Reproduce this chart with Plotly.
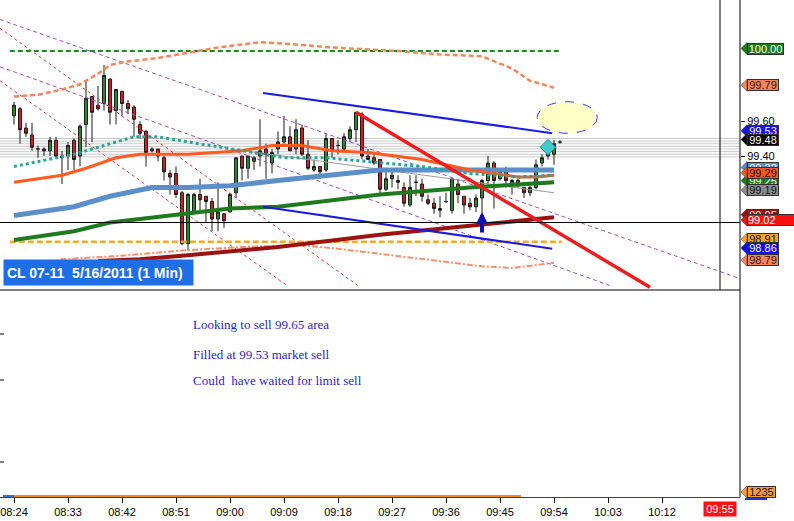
import plotly.graph_objects as go

# ---------------- data ----------------
tick_labels = ["08:24", "08:33", "08:42", "08:51", "09:00", "09:09", "09:18",
               "09:27", "09:36", "09:45", "09:54", "10:03", "10:12"]
tick_minutes = [0, 9, 18, 27, 36, 45, 54, 63, 72, 81, 90, 99, 108]

bar_index = list(range(92))  # minutes after 08:24
opens = [99.63, 99.67, 99.56, 99.52, 99.44, 99.44, 99.43, 99.49, 99.39, 99.40,
         99.49, 99.40, 99.58, 99.74, 99.69, 99.70, 99.84, 99.66, 99.77, 99.70,
         99.68, 99.58, 99.54, 99.43, 99.44, 99.39, 99.30, 99.30, 99.19, 98.90,
         99.08, 99.18, 99.17, 99.14, 99.04, 99.07, 99.08, 99.19, 99.40, 99.33,
         99.37, 99.40, 99.44, 99.36, 99.44, 99.48, 99.51, 99.44, 99.56, 99.41,
         99.32, 99.34, 99.32, 99.50, 99.46, 99.44, 99.50, 99.55, 99.64, 99.40,
         99.39, 99.38, 99.21, 99.27, 99.26, 99.22, 99.12, 99.25, 99.24, 99.15,
         99.13, 99.10, 99.14, 99.09, 99.24, 99.17, 99.13, 99.11, 99.16, 99.26,
         99.36, 99.27, 99.31, 99.23, 99.26, 99.22, 99.19, 99.22, 99.36, 99.40,
         99.41, 99.48]
highs = [99.71, 99.68, 99.59, 99.59, 99.46, 99.45, 99.51, 99.51, 99.43, 99.48,
         99.50, 99.58, 99.83, 99.74, 99.80, 99.92, 99.84, 99.78, 99.77, 99.72,
         99.69, 99.60, 99.55, 99.45, 99.44, 99.40, 99.32, 99.34, 99.20, 99.19,
         99.19, 99.27, 99.17, 99.16, 99.25, 99.07, 99.19, 99.39, 99.40, 99.40,
         99.40, 99.61, 99.47, 99.44, 99.54, 99.63, 99.57, 99.61, 99.58, 99.49,
         99.38, 99.34, 99.53, 99.50, 99.49, 99.53, 99.57, 99.65, 99.65, 99.44,
         99.42, 99.38, 99.31, 99.33, 99.29, 99.25, 99.29, 99.29, 99.27, 99.18,
         99.16, 99.17, 99.19, 99.27, 99.27, 99.17, 99.16, 99.18, 99.27, 99.40,
         99.37, 99.33, 99.34, 99.27, 99.27, 99.22, 99.23, 99.38, 99.41, 99.45,
         99.49, 99.49]
lows = [99.58, 99.47, 99.51, 99.43, 99.39, 99.40, 99.40, 99.39, 99.24, 99.32,
        99.32, 99.34, 99.45, 99.48, 99.66, 99.66, 99.58, 99.58, 99.63, 99.64,
        99.51, 99.50, 99.34, 99.42, 99.37, 99.26, 99.18, 99.16, 98.89, 98.86,
        99.08, 99.09, 99.02, 98.97, 98.97, 98.99, 99.08, 99.16, 99.26, 99.27,
        99.32, 99.34, 99.27, 99.30, 99.41, 99.47, 99.43, 99.41, 99.40, 99.32,
        99.31, 99.27, 99.31, 99.39, 99.41, 99.43, 99.48, 99.48, 99.38, 99.38,
        99.35, 99.17, 99.20, 99.22, 99.21, 99.11, 99.11, 99.17, 99.14, 99.12,
        99.07, 99.05, 99.13, 99.07, 99.13, 99.07, 99.09, 99.08, 99.07, 99.23,
        99.10, 99.26, 99.22, 99.18, 99.22, 99.16, 99.17, 99.21, 99.34, 99.38,
        99.35, 99.47]
closes = [99.69, 99.55, 99.53, 99.45, 99.44, 99.43, 99.49, 99.40, 99.40, 99.46,
          99.38, 99.57, 99.73, 99.65, 99.67, 99.86, 99.65, 99.78, 99.70, 99.67,
          99.61, 99.53, 99.42, 99.44, 99.40, 99.31, 99.28, 99.18, 98.90, 99.18,
          99.18, 99.15, 99.14, 99.04, 99.08, 99.03, 99.18, 99.39, 99.33, 99.40,
          99.39, 99.43, 99.41, 99.42, 99.48, 99.51, 99.43, 99.55, 99.41, 99.33,
          99.34, 99.31, 99.50, 99.43, 99.46, 99.51, 99.55, 99.65, 99.40, 99.38,
          99.36, 99.21, 99.27, 99.29, 99.25, 99.13, 99.22, 99.25, 99.17, 99.13,
          99.10, 99.09, 99.14, 99.27, 99.18, 99.12, 99.11, 99.16, 99.26, 99.36,
          99.26, 99.31, 99.26, 99.26, 99.23, 99.19, 99.22, 99.35, 99.39, 99.44,
          99.47, 99.48]

# moving averages / bands  (minute index, price)
teal_x = [0, 10, 16, 20, 24, 29, 40, 45, 52, 59, 68, 76, 84, 90]
teal_y = [99.34, 99.41, 99.47, 99.51, 99.51, 99.48, 99.42, 99.39, 99.39, 99.37, 99.34, 99.30, 99.28, 99.29]
orange_x = [0, 8, 12, 17, 21, 29, 38, 43, 48, 53, 59, 68, 76, 84, 87, 90]
orange_y = [99.25, 99.29, 99.33, 99.39, 99.41, 99.41, 99.43, 99.46, 99.46, 99.43, 99.42, 99.38, 99.32, 99.28, 99.28, 99.29]
steel_x = [0, 10, 16, 23, 29, 36, 44, 53, 61, 75, 90]
steel_y = [99.06, 99.11, 99.17, 99.22, 99.22, 99.23, 99.26, 99.29, 99.32, 99.32, 99.32]
green_x = [0, 10, 16, 23, 29, 36, 44, 53, 61, 76, 90]
green_y = [98.92, 98.97, 99.02, 99.05, 99.07, 99.10, 99.11, 99.15, 99.18, 99.22, 99.25]
darkred_x = [14, 21, 28, 44, 61, 76, 90]
darkred_y = [98.80, 98.81, 98.83, 98.88, 98.95, 99.00, 99.05]
gray_x = [36, 90]
gray_y = [99.44, 99.19]
upper_x = [0, 4, 8, 11, 14, 16, 19, 24, 29, 34, 41, 46, 53, 59, 64, 71, 78, 83, 86, 90]
upper_y = [99.74, 99.75, 99.78, 99.81, 99.87, 99.92, 99.94, 99.96, 99.99, 100.02,
           100.05, 100.04, 100.02, 100.01, 100.00, 99.98, 99.97, 99.90, 99.83, 99.79]
lower_x = [0, 8, 18, 28, 38, 48, 54, 61, 69, 78, 83, 88, 90]
lower_y = [98.74, 98.81, 98.83, 98.86, 98.88, 98.89, 98.87, 98.84, 98.81, 98.77, 98.76, 98.78, 98.79]

# horizontal levels
level_100 = 100.00
level_low = 98.91
level_span = [-0.7, 91.3]
profile_levels = [99.50, 99.485, 99.47, 99.455, 99.44, 99.425, 99.41, 99.395]
cursor_price = 99.02

# drawn trend lines: ((t0, p0), (t1, p1))
blue_upper = ((41.5, 99.76), (89.7, 99.53))
blue_lower = ((41.5, 99.11), (89.7, 98.87))
red_trend = ((57.0, 99.65), (106.0, 98.65))
purple_lines = [((-2.33, 100.18), (121.0, 98.70)), ((-2.33, 99.91), (99.3, 98.66))]
red_dashed = [((-2.33, 99.83), (45.5, 98.66)), ((-2.33, 100.13), (57.3, 98.66))]
target_zone_t = [87.2, 97.2]
target_zone_p = [99.53, 99.71]
entry_marker = (89, 99.45)
buy_arrow = (78, 98.955, 99.08)

# right-axis price tags: value, text, background, text colour
price_tags = [
    (100.00, "100.00", "#15801a", "white"),
    (99.79, "99.79", "#f4845f", "#3a1408"),
    (99.53, "99.53", "#1414e6", "white"),
    (99.48, "99.48", "#000000", "white"),
    (99.32, "99.32", "#5b8fc9", "white"),
    (99.245, "99.25", "#1f7a1f", "white"),
    (99.29, "99.29", "#f25a24", "#1a0800"),
    (99.19, "99.19", "#8c8c8c", "#101010"),
    (99.05, "99.05", "#9b1010", "white"),
    (99.02, "99.02", "#ff1010", "white"),
    (98.91, "98.91", "#f5a623", "#101010"),
    (98.86, "98.86", "#0a0af0", "white"),
    (98.79, "98.79", "#f4845f", "#3a1408"),
]
title_text = "CL 07-11\u00a0 5/16/2011 (1 Min)"
notes = ["Looking to sell 99.65 area", "Filled at 99.53 market sell",
         "Could\u00a0 have waited for limit sell"]
volume_tag = "1235"
time_tag = "09:55"

# ---------------- layout geometry ----------------
W, H = 794, 521
PW, PH = 740, 497          # plot area (px)
MAIN_H = 290               # price pane height (px)
PX_PER = 175.0             # px per price unit
P_TOP = 99.60 + 121 / PX_PER
P_BOT = P_TOP - MAIN_H / PX_PER
X0 = -14 / 6
X1 = X0 + PW / 6


def px(x):
    return x / PW


def py(y):
    return 1 - y / PH


fig = go.Figure()

fig.add_trace(go.Candlestick(
    x=bar_index, open=opens, high=highs, low=lows, close=closes,
    increasing=dict(fillcolor="#2e8b2e", line=dict(color="#1a1a1a", width=1)),
    decreasing=dict(fillcolor="#e01a1a", line=dict(color="#1a1a1a", width=1)),
    whiskerwidth=0, hoverinfo="skip"))


def line(x, y, color, width, dash="solid"):
    fig.add_trace(go.Scatter(x=x, y=y, mode="lines", hoverinfo="skip",
                             line=dict(color=color, width=width, dash=dash)))


def seg(s, color, width, dash="solid"):
    line([s[0][0], s[1][0]], [s[0][1], s[1][1]], color, width, dash)


for s in red_dashed:
    seg(s, "#e83838", 1, "3px,3px")
for s in purple_lines:
    seg(s, "#9b4fc4", 1, "4px,3px")
line(level_span, [level_100, level_100], "#1a8a1a", 2, "5px,3px")
line(level_span, [level_low, level_low], "#f9a825", 2.5, "6px,3px")
line(upper_x, upper_y, "#f7875a", 2.5, "5px,3px")
line(lower_x, lower_y, "#f5926f", 2, "6px,2px,2px,2px")
line(gray_x, gray_y, "#9a9a9a", 1)
line(darkred_x, darkred_y, "#9b1212", 4)
line(green_x, green_y, "#1f7a1f", 4)
line(steel_x, steel_y, "#5b8fc9", 5)
line(orange_x, orange_y, "#ff5a1f", 3)
line(teal_x, teal_y, "#26a69a", 3, "dot")
seg(blue_upper, "#1a1ae6", 2)
seg(blue_lower, "#1a1ae6", 2)
seg(red_trend, "#ee1c1c", 3.5)

fig.add_trace(go.Scatter(x=[entry_marker[0]], y=[entry_marker[1]], mode="markers",
                         hoverinfo="skip",
                         marker=dict(symbol="diamond", size=12, color="#40cccc",
                                     line=dict(color="#1a8a8a", width=1))))

shapes = []
for lv in profile_levels:
    shapes.append(dict(type="line", xref="paper", yref="y", x0=0, x1=1, y0=lv, y1=lv,
                       line=dict(color="#c8c8c8", width=1), layer="below"))
shapes.append(dict(type="circle", xref="x", yref="y",
                   x0=target_zone_t[0], x1=target_zone_t[1],
                   y0=target_zone_p[0], y1=target_zone_p[1],
                   fillcolor="#ffffc8", line=dict(color="#3a3aff", width=1, dash="dash"),
                   layer="below"))
# cursor lines and pane frame
shapes.append(dict(type="line", xref="paper", yref="y", x0=0, x1=1, y0=cursor_price,
                   y1=cursor_price, line=dict(color="black", width=1)))
shapes.append(dict(type="line", xref="paper", yref="paper", x0=px(720), x1=px(720),
                   y0=py(0), y1=py(MAIN_H), line=dict(color="black", width=1)))
shapes.append(dict(type="line", xref="paper", yref="paper", x0=1, x1=1,
                   y0=py(0), y1=py(PH), line=dict(color="black", width=1)))
shapes.append(dict(type="line", xref="paper", yref="paper", x0=0, x1=1,
                   y0=py(MAIN_H), y1=py(MAIN_H), line=dict(color="black", width=1)))
for ty in (334, 380, 462):
    shapes.append(dict(type="line", xref="paper", yref="paper", x0=0, x1=px(4),
                       y0=py(ty), y1=py(ty), line=dict(color="black", width=1)))
# volume baseline
shapes.append(dict(type="line", xref="paper", yref="paper", x0=px(3), x1=px(14),
                   y0=py(PH - 1), y1=py(PH - 1), line=dict(color="#3a6fd0", width=2)))
shapes.append(dict(type="line", xref="x", yref="paper", x0=0, x1=84.5,
                   y0=py(PH - 1), y1=py(PH - 1), line=dict(color="#f08a1a", width=2)))

annotations = []
# price tags
shift = 2.5 / PX_PER
half = 6 / PX_PER
for val, txt, bg, fg in price_tags:
    yc = val + shift
    shapes.append(dict(type="path", xref="paper", yref="y",
                       path=f"M {px(741)},{yc} L {px(747)},{yc + half} L {px(747)},{yc - half} Z",
                       fillcolor=bg, line=dict(color="#303030", width=0.5), layer="above"))
    wide = txt == "99.02"
    annotations.append(dict(
        xref="paper", yref="y", x=px(747), y=yc, xanchor="left", yanchor="middle",
        text=txt, showarrow=False, bgcolor=bg, bordercolor="#303030", borderwidth=1,
        borderpad=0, width=(46 if wide else (35 if len(txt) > 5 else 30)), height=10,
        align=("left" if wide else "center"),
        font=dict(family="Liberation Sans, Arial", size=11, color=fg)))

# volume tag
vy = 492
shapes.append(dict(type="path", xref="paper", yref="paper",
                   path=f"M {px(741)},{py(vy)} L {px(747)},{py(vy - 6)} L {px(747)},{py(vy + 6)} Z",
                   fillcolor="#f5a030", line=dict(color="#303030", width=0.5)))
shapes.append(dict(type="line", xref="paper", yref="paper", x0=px(745), x1=px(767),
                   y0=py(499), y1=py(499), line=dict(color="#1a3ae0", width=2)))
annotations.append(dict(xref="paper", yref="paper", x=px(747), y=py(vy), xanchor="left",
                        yanchor="middle", text=volume_tag, showarrow=False,
                        bgcolor="#f5a030", bordercolor="#303030", borderwidth=1,
                        borderpad=0, width=27, height=10,
                        font=dict(family="Liberation Sans, Arial", size=11, color="#101010")))
# time tag
annotations.append(dict(xref="paper", yref="paper", x=px(720), y=py(509), xanchor="center",
                        yanchor="middle", text=time_tag, showarrow=False,
                        bgcolor="#ff1010", borderpad=1, width=30, height=12,
                        font=dict(family="Liberation Sans, Arial", size=11, color="white")))
# chart title tag
annotations.append(dict(xref="paper", yref="paper", x=px(3), y=py(272.5), xanchor="left",
                        yanchor="middle", text="<b>" + title_text + "</b>", showarrow=False,
                        bgcolor="#1e6ee8", borderpad=3, width=183, height=19, align="left",
                        font=dict(family="Liberation Sans, Arial", size=14, color="white")))
# notes
for i, (txt, yy) in enumerate(zip(notes, (324, 354, 380))):
    annotations.append(dict(xref="paper", yref="paper", x=px(191), y=py(yy), xanchor="left",
                            yanchor="middle", text=txt, showarrow=False,
                            font=dict(family="Liberation Serif, Times New Roman", size=13,
                                      color="#2a1fd1")))
# buy arrow
annotations.append(dict(xref="x", yref="y", x=buy_arrow[0], y=buy_arrow[2],
                        axref="x", ayref="y", ax=buy_arrow[0], ay=buy_arrow[1],
                        text="", showarrow=True, arrowhead=2, arrowsize=0.6,
                        arrowwidth=4, arrowcolor="#1010b0", standoff=0))

fig.update_layout(
    width=W, height=H, margin=dict(l=0, r=W - PW, t=0, b=H - PH),
    paper_bgcolor="white", plot_bgcolor="white", showlegend=False,
    hovermode=False, dragmode=False,
    shapes=shapes, annotations=annotations,
    xaxis=dict(range=[X0, X1], anchor="free", position=0, tickvals=tick_minutes,
               ticktext=tick_labels, ticks="outside", ticklen=5, tickcolor="black",
               showline=True, linecolor="#404040", linewidth=1, showgrid=False,
               zeroline=False, rangeslider=dict(visible=False),
               tickfont=dict(family="Liberation Sans, Arial", size=11, color="black")),
    yaxis=dict(domain=[1 - MAIN_H / PH, 1], range=[P_BOT, P_TOP], side="right",
               tickvals=[99.4, 99.6], ticktext=["99.40", "99.60"], ticks="outside",
               ticklen=4, tickcolor="black", showgrid=False, zeroline=False,
               showline=False,
               tickfont=dict(family="Liberation Sans, Arial", size=11, color="black")),
)

fig.write_html("out.html", config={"displayModeBar": False, "staticPlot": True},
               post_script="document.body.style.margin='0px';document.body.style.overflow='hidden';")
